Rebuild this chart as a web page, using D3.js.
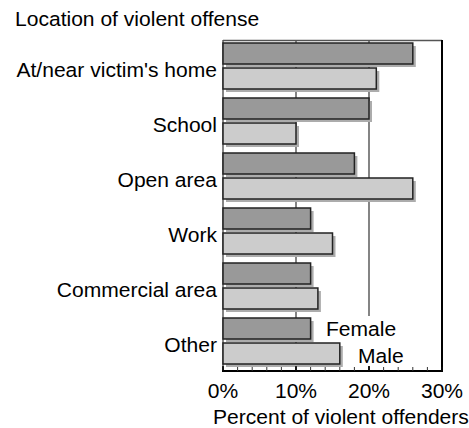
<!DOCTYPE html>
<html>
<head>
<meta charset="utf-8">
<script src="https://cdn.jsdelivr.net/npm/d3@7"></script>
<style>
  body { margin: 0; background: #fff; }
  text { font-family: Arial, "Liberation Sans", sans-serif; fill: #000; }
</style>
</head>
<body>
<div id="chart"></div>
<script>
var categories = ["At/near victim's home", "School", "Open area", "Work", "Commercial area", "Other"];
var female = [26, 20, 18, 12, 12, 12];
var male = [21, 10, 26, 15, 13, 16];
var seriesNames = ["Female", "Male"];
var majorTicks = [0, 10, 20, 30];
var tickLabels = ["0%", "10%", "20%", "30%"];

var width = 469, height = 428;
var fs = 19.5, sx = 1.08;

var svg = d3.select("#chart").append("svg")
    .attr("width", width)
    .attr("height", height);

var x = d3.scaleLinear().domain([0, 30]).range([223, 442]);
var y = d3.scaleBand().domain(categories).range([40, 370]);
var yInner = d3.scaleBand().domain(seriesNames).range([3, 49]).paddingInner(4 / 25);

// text is a little wider than plain Arial in the picture
function stext(sel, px, py, anchor) {
    return sel.attr("transform", "translate(" + px + "," + py + ") scale(" + sx + ",1)")
        .attr("text-anchor", anchor)
        .style("font-size", fs + "px");
}

stext(svg.append("text"), 15, 26, "start").text("Location of violent offense");

// gridlines
svg.selectAll(".grid")
    .data([0, 10, 20])
    .enter()
    .append("line")
    .attr("x1", function (d) { return x(d); })
    .attr("x2", function (d) { return x(d); })
    .attr("y1", 40)
    .attr("y2", 371)
    .attr("stroke", "#333")
    .attr("stroke-width", 1.2);

// frame
svg.append("line").attr("x1", x(0)).attr("x2", x(30)).attr("y1", 40.5).attr("y2", 40.5)
    .attr("stroke", "#555").attr("stroke-width", 1.3);
svg.append("line").attr("x1", x(30)).attr("x2", x(30)).attr("y1", 40).attr("y2", 372)
    .attr("stroke", "#000").attr("stroke-width", 2);

var rows = categories.map(function (c, i) {
    return { cat: c, vals: [female[i], male[i]] };
});

var group = svg.selectAll(".grp")
    .data(rows)
    .enter()
    .append("g")
    .attr("transform", function (d) { return "translate(0," + y(d.cat) + ")"; });

var bars = group.selectAll(".bar")
    .data(function (d) {
        return d.vals.map(function (v, j) { return { s: seriesNames[j], v: v }; });
    })
    .enter();

// drop shadows
bars.append("rect")
    .attr("x", x(0) + 3)
    .attr("y", function (d) { return yInner(d.s) + 3; })
    .attr("width", function (d) { return x(d.v) - x(0); })
    .attr("height", yInner.bandwidth())
    .attr("fill", "#acacac");

bars.append("rect")
    .attr("x", x(0))
    .attr("y", function (d) { return yInner(d.s); })
    .attr("width", function (d) { return x(d.v) - x(0); })
    .attr("height", yInner.bandwidth())
    .attr("fill", function (d) { return d.s === "Female" ? "#999" : "#ccc"; })
    .attr("stroke", "#222")
    .attr("stroke-width", 1.5);

group.each(function (d) {
    stext(d3.select(this).append("text"), 217, y.bandwidth() / 2 + 9, "end").text(d.cat);
});

// legend labels, white behind them hides the gridline
svg.append("rect").attr("x", 325).attr("y", 316).attr("width", 72).attr("height", 26).attr("fill", "#fff");
svg.append("rect").attr("x", 356).attr("y", 342).attr("width", 50).attr("height", 24).attr("fill", "#fff");
stext(svg.append("text"), 326, 336, "start").text("Female");
stext(svg.append("text"), 358, 363, "start").text("Male");

// bottom axis
var axis = svg.append("g").attr("transform", "translate(0,371)");
axis.append("line").attr("x1", x(0) - 1).attr("x2", x(30) + 1).attr("stroke", "#000").attr("stroke-width", 2);
axis.selectAll(".minor")
    .data(d3.range(0, 31, 2))
    .enter()
    .append("line")
    .attr("x1", function (d) { return x(d); })
    .attr("x2", function (d) { return x(d); })
    .attr("y1", 0)
    .attr("y2", -4)
    .attr("stroke", "#333")
    .attr("stroke-width", 1);
axis.selectAll(".major")
    .data(majorTicks)
    .enter()
    .append("line")
    .attr("x1", function (d) { return x(d); })
    .attr("x2", function (d) { return x(d); })
    .attr("y1", 0)
    .attr("y2", -5)
    .attr("stroke", "#000")
    .attr("stroke-width", 1.5);
majorTicks.forEach(function (t, i) {
    stext(axis.append("text"), x(t), 27, "middle").text(tickLabels[i]);
});

stext(svg.append("text"), 213, 424, "start").text("Percent of violent offenders");
</script>
</body>
</html>
